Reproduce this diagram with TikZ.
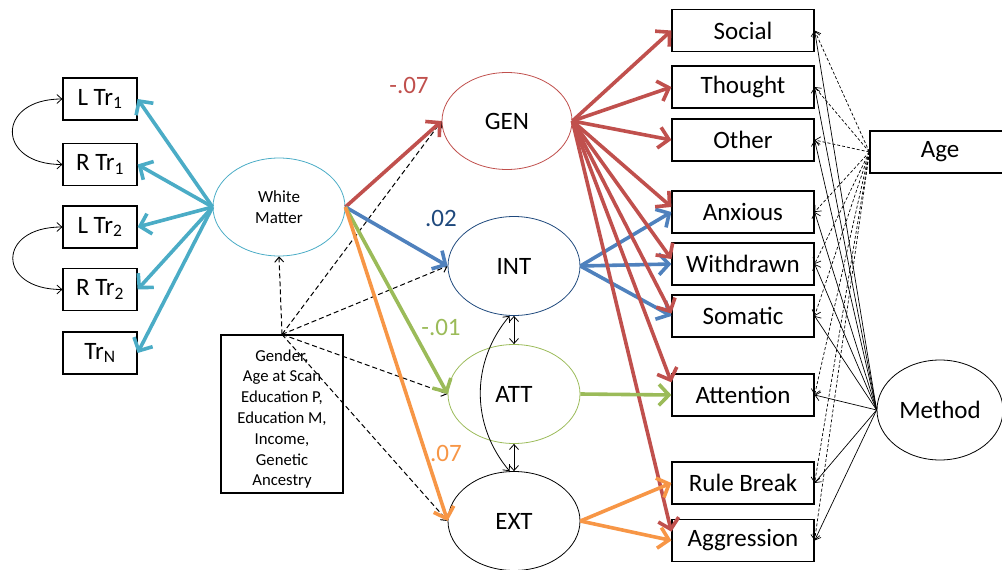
\documentclass[tikz,border=0pt]{standalone}
\usepackage{fontspec}
\setmainfont{Carlito}
\usetikzlibrary{shapes.geometric,arrows.meta}
\definecolor{semred}{HTML}{C0504D}
\definecolor{semblue}{HTML}{4F81BD}
\definecolor{semnavy}{HTML}{1F497D}
\definecolor{semgreen}{HTML}{9BBB59}
\definecolor{semorange}{HTML}{F79646}
\definecolor{semcyan}{HTML}{4BACC6}

\begin{document}
\begin{tikzpicture}[x=1pt, y=-1pt,
  font=\fontsize{25}{28}\selectfont,
  obs/.style={rectangle, draw, line width=1.2pt, minimum height=42pt, inner sep=0pt},
  lat/.style={ellipse, draw, line width=0.8pt, minimum width=132pt, minimum height=99pt, inner sep=0pt},
  regpath/.style={line width=3.6pt, -{Straight Barb[length=10pt, width=21pt]}},
  covar/.style={line width=0.8pt, {Straight Barb[length=5pt, width=9pt]}-{Straight Barb[length=5pt, width=9pt]}},
  ctrl/.style={line width=1pt, dash pattern=on 5pt off 3pt, -{Straight Barb[length=5pt, width=9pt]}},
  methctrl/.style={line width=0.7pt, -{Straight Barb[length=5pt, width=9pt]}},
  agectrl/.style={line width=0.7pt, dash pattern=on 3pt off 2pt, -{Straight Barb[length=5pt, width=9pt]}}
]
\useasboundingbox (0,0) rectangle (1002,570);

% indicators of white matter
\foreach \nm/\lbl/\y in {ltr1/{L Tr\textsubscript{1}}/99, rtr1/{R Tr\textsubscript{1}}/164.5,
    ltr2/{L Tr\textsubscript{2}}/227, rtr2/{R Tr\textsubscript{2}}/289.5, trn/{Tr\textsubscript{N}}/353} {
  \node[obs, minimum width=74pt] (\nm) at (100,\y) {\lbl};
}

% latent variables
\node[lat, draw=semcyan, minimum width=132pt, minimum height=98pt, align=center,
  font=\fontsize{17}{20.5}\selectfont] (wm) at (279,207) {White\\Matter};
\node[lat, draw=semred, minimum width=130pt, minimum height=97pt] (gen) at (507,121) {GEN};
\node[lat, draw=semnavy] (int) at (514,266) {INT};
\node[lat, draw=semgreen] (att) at (514,394) {ATT};
\node[lat, draw=black] (ext) at (514,521) {EXT};

% covariates
\node[obs, minimum width=122pt, minimum height=158pt] (cov) at (282,414) {};
\node[align=center, font=\fontsize{16.7}{20.8}\selectfont] (covtxt) at (282,419)
  {Gender,\\Age at Scan\\Education P,\\Education M,\\Income,\\Genetic\\Ancestry};

% syndrome scales
\foreach \nm/\lbl/\y in {social/Social/30.5, thought/Thought/87, other/Other/140,
    anx/Anxious/212, wdr/Withdrawn/264, som/Somatic/316, attn/Attention/395,
    rule/Rule Break/483, aggr/Aggression/540.5} {
  \node[obs, minimum width=142pt] (\nm) at (743,\y) {\lbl};
}
\node[obs, minimum width=140pt] (age) at (940,152) {Age};
\node[lat, minimum width=126pt, minimum height=100pt] (method) at (940,410) {Method};

% path coefficients
\node[text=semred] (bgen) at (409,85) {-.07};
\node[text=semnavy] (bint) at (441,218) {.02};
\node[text=semgreen] (batt) at (441,327) {-.01};
\node[text=semorange] (bext) at (446,453) {.07};

% loadings and residual covariances
\foreach \t in {ltr1, rtr1, ltr2, rtr2, trn}
  \draw[regpath, semcyan] (wm.west) -- (\t.east);
\draw[covar] (ltr1.west) to[out=180, in=180, looseness=2.6] (rtr1.west);
\draw[covar] (ltr2.west) to[out=180, in=180, looseness=2.7] (rtr2.west);

% covariate paths
\foreach \t in {wm.south, gen.west, int.west, att.west, ext.west}
  \draw[ctrl] (cov.north) -- (\t);

% white matter -> factors
\draw[regpath, semred] (wm.east) -- (gen.west);
\draw[regpath, semblue] (wm.east) -- (int.west);
\draw[regpath, semgreen] (wm.east) -- (att.west);
\draw[regpath, semorange] (wm.east) -- (ext.west);

% factors -> scales
\foreach \t in {anx, wdr, som}
  \draw[regpath, semblue] (int.east) -- (\t.west);
\foreach \t in {social.west, thought.west, other.west, anx.176, wdr.176, som.178, attn.170, aggr.173}
  \draw[regpath, semred] (gen.east) -- (\t);
\draw[regpath, semgreen] (att.east) -- (attn.west);
\draw[regpath, semorange] (ext.east) -- (rule.west);
\draw[regpath, semorange] (ext.east) -- (aggr.west);

% factor covariances
\draw[covar] (int.south) -- (att.north);
\draw[covar] (att.south) -- (ext.north);
\draw[covar] (int.265) to[bend right=40] (ext.95);

% age and method
\foreach \t in {social, thought, other, anx, wdr, som, attn, rule, aggr} {
  \draw[agectrl] (age.west) -- (\t.east);
  \draw[methctrl] (method.west) -- (\t.east);
}
\end{tikzpicture}
\end{document}
